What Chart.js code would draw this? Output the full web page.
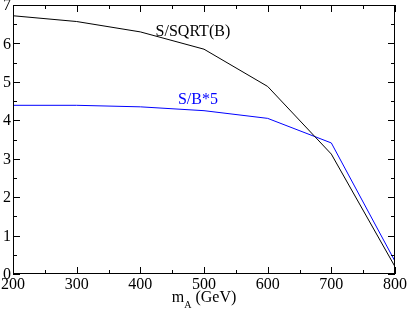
<!DOCTYPE html>
<html>
<head>
<meta charset="utf-8">
<script src="https://cdn.jsdelivr.net/npm/chart.js@4.4.0/dist/chart.umd.min.js"></script>
<style>
  body { margin: 0; background: #fff; }
  #wrap { width: 408px; height: 311px; }
</style>
</head>
<body>
<div id="wrap"><canvas id="canvas" width="408" height="311"></canvas></div>
<script>
// values
let masses = [200, 300, 400, 500, 600, 700, 800];
let sOverSqrtB = [6.72, 6.57, 6.30, 5.85, 4.88, 3.12, 0.19];
let sOverB5 = [4.39, 4.39, 4.35, 4.25, 4.05, 3.41, 0.33];

let xTicks = [200, 300, 400, 500, 600, 700, 800];
let yTicks = [0, 1, 2, 3, 4, 5, 6, 7];

// text labels placed in data units
let notes = [
  { text: 'S/SQRT(B)', x: 424, y: 6.2, color: '#000000' },
  { text: 'S/B*5', x: 459, y: 4.43, color: '#0000ff' }
];

const serif = '"Liberation Serif", "DejaVu Serif", serif';

function toPoints(xs, ys) {
  return xs.map((x, i) => ({ x: x, y: ys[i] }));
}

// frame, inward ticks, labels, axis title
let framePlugin = {
  id: 'frame',
  afterDatasetsDraw(chart) {
    let ctx = chart.ctx;
    let ca = chart.chartArea;
    let xs = chart.scales.x;
    let ys = chart.scales.y;
    ctx.save();
    ctx.strokeStyle = '#000';
    ctx.lineWidth = 1;
    ctx.strokeRect(ca.left + 0.5, ca.top + 0.5, ca.right - ca.left - 1, ca.bottom - ca.top - 1);

    ctx.beginPath();
    for (let v = 200; v <= 800; v += 50) {
      let px = Math.round(xs.getPixelForValue(v)) + 0.5;
      let len = (v % 100 === 0) ? 7 : 4;
      ctx.moveTo(px, ca.bottom); ctx.lineTo(px, ca.bottom - len);
      ctx.moveTo(px, ca.top); ctx.lineTo(px, ca.top + len);
    }
    for (let v = 0; v <= 7; v += 0.5) {
      let py = Math.round(ys.getPixelForValue(v)) + 0.5;
      let len = (v % 1 === 0) ? 7 : 4;
      ctx.moveTo(ca.left, py); ctx.lineTo(ca.left + len, py);
      ctx.moveTo(ca.right, py); ctx.lineTo(ca.right - len, py);
    }
    ctx.stroke();

    ctx.fillStyle = '#000';
    ctx.font = '16px ' + serif;
    ctx.textAlign = 'center';
    ctx.textBaseline = 'alphabetic';
    xTicks.forEach(v => {
      ctx.fillText(String(v), xs.getPixelForValue(v), 289);
    });
    ctx.textAlign = 'right';
    ctx.textBaseline = 'middle';
    yTicks.forEach(v => {
      ctx.fillText(String(v), ca.left - 2, ys.getPixelForValue(v) + 1);
    });

    // m_A (GeV)
    ctx.textAlign = 'left';
    ctx.textBaseline = 'alphabetic';
    ctx.font = '16px ' + serif;
    let w1 = ctx.measureText('m').width;
    let w3 = ctx.measureText(' (GeV)').width;
    ctx.font = '10px ' + serif;
    let w2 = ctx.measureText('A').width;
    let x0 = (ca.left + ca.right) / 2 - (w1 + w2 + w3) / 2;
    ctx.font = '16px ' + serif;
    ctx.fillText('m', x0, 302);
    ctx.font = '10px ' + serif;
    ctx.fillText('A', x0 + w1, 308);
    ctx.font = '16px ' + serif;
    ctx.fillText(' (GeV)', x0 + w1 + w2, 302);

    notes.forEach(n => {
      ctx.fillStyle = n.color;
      ctx.fillText(n.text, xs.getPixelForValue(n.x), ys.getPixelForValue(n.y));
    });
    ctx.restore();
  }
};

let myChart = document.getElementById('canvas').getContext('2d');

let chart = new Chart(myChart, {
  type: 'line',
  data: {
    datasets: [{
      label: 'S/SQRT(B)',
      borderColor: '#000000',
      backgroundColor: '#000000',
      borderWidth: 1,
      pointRadius: 0,
      tension: 0,
      data: toPoints(masses, sOverSqrtB)
    },
    {
      label: 'S/B*5',
      borderColor: '#0000ff',
      backgroundColor: '#0000ff',
      borderWidth: 1,
      pointRadius: 0,
      tension: 0,
      data: toPoints(masses, sOverB5)
    }]
  },
  options: {
    responsive: false,
    animation: false,
    layout: { padding: { left: 13, top: 5, right: 13, bottom: 37 } },
    plugins: { legend: { display: false }, tooltip: { enabled: false } },
    scales: {
      x: { type: 'linear', min: 200, max: 800, display: false },
      y: { type: 'linear', min: 0, max: 7, display: false }
    }
  },
  plugins: [framePlugin]
});
</script>
</body>
</html>
